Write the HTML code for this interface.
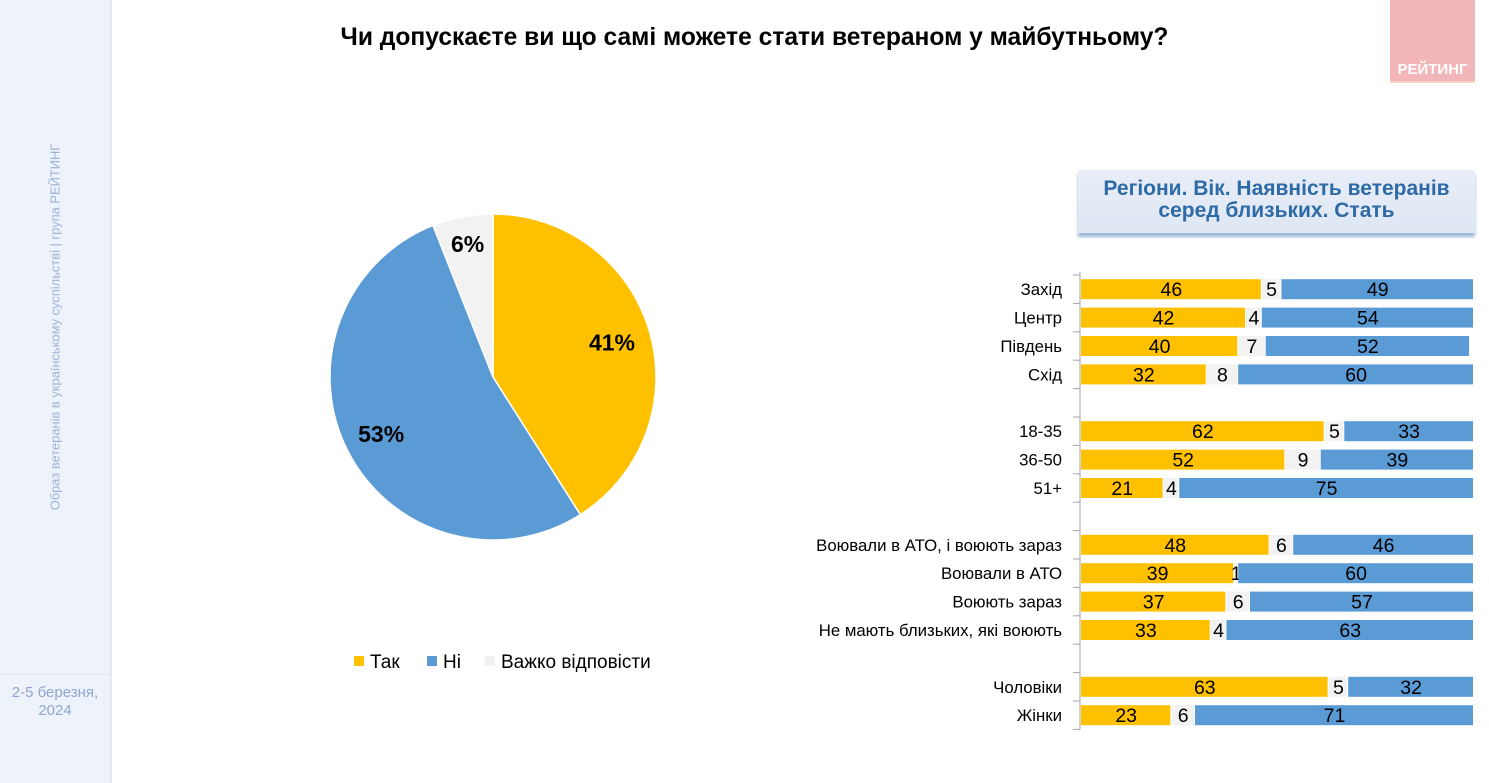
<!DOCTYPE html>
<html><head><meta charset="utf-8"><style>
body{margin:0;width:1489px;height:783px;background:#fff;position:relative;overflow:hidden;font-family:"Liberation Sans",sans-serif;}
#side{position:absolute;left:0;top:0;width:110px;height:783px;background:#eef3fb;border-right:2px solid #e2e9f4;}
#vt{position:absolute;left:55px;top:327px;transform:translate(-50%,-50%) rotate(-90deg);white-space:nowrap;color:#9bb3d8;font-size:12.9px;}
#date{position:absolute;left:0;width:110px;top:684px;text-align:center;color:#8fa6d0;font-size:15px;line-height:18px;}
#hr{position:absolute;left:0;top:674px;width:110px;border-top:1px solid #dde5f1;}
#title{position:absolute;left:0;width:1509px;top:24px;text-align:center;font-weight:bold;font-size:24.6px;color:#000;}
#logo{position:absolute;left:1390px;top:0;width:85px;height:81px;background:#f2b6b8;border-bottom:2px solid #f7d3c8;}
#logo span{position:absolute;bottom:3px;left:0;width:85px;text-align:center;color:#fff;font-weight:bold;font-size:15px;}
#box{position:absolute;left:1078px;top:170px;width:397px;height:63px;background:linear-gradient(#e8eef8,#dfe7f4);box-shadow:0 4px 3px #9fb8d8;text-align:center;color:#2e6aa6;font-weight:bold;font-size:21px;line-height:22px;padding-top:8px;box-sizing:border-box;}
</style></head><body>
<div id="side">
<div id="vt">Образ ветеранів в українському суспільстві | група РЕЙТИНГ</div>
<div id="hr"></div>
<div id="date">2-5 березня,<br>2024</div>
</div>
<div id="title">Чи допускаєте ви що самі можете стати ветераном у майбутньому?</div>
<div id="logo"><span>РЕЙТИНГ</span></div>
<div id="box">Регіони. Вік. Наявність ветеранів<br>серед близьких. Стать</div>
<svg id="svg" width="1489" height="783" style="position:absolute;left:0;top:0"></svg>
<script>
const pieLabels=["Так","Ні","Важко відповісти"];
const pieValues=[41,53,6];
const colors=["#ffc000","#5b9bd5","#f2f2f2"];
const categories=["Захід","Центр","Південь","Схід",null,"18-35","36-50","51+",null,"Воювали в АТО, і воюють зараз","Воювали в АТО","Воюють зараз","Не мають близьких, які воюють",null,"Чоловіки","Жінки"];
const yesVals=[46,42,40,32,null,62,52,21,null,48,39,37,33,null,63,23];
const hardVals=[5,4,7,8,null,5,9,4,null,6,1,6,4,null,5,6];
const noVals=[49,54,52,60,null,33,39,75,null,46,60,57,63,null,32,71];
const NS="http://www.w3.org/2000/svg";
const svg=document.getElementById('svg');
function mk(t,a,p){const e=document.createElementNS(NS,t);for(const k in a)e.setAttribute(k,a[k]);(p||svg).appendChild(e);return e;}
// pie
const cx=493,cy=377,r=163;
let tot=pieValues.reduce((a,b)=>a+b,0),acc=0;
const labelR=[0.76,0.77,0.83];
pieValues.forEach((v,i)=>{
 const a0=acc/tot*2*Math.PI,a1=(acc+v)/tot*2*Math.PI;acc+=v;
 const p=(a)=>[cx+r*Math.sin(a),cy-r*Math.cos(a)];
 const [x0,y0]=p(a0),[x1,y1]=p(a1);
 const s=mk('path',{d:`M${cx},${cy}L${x0},${y0}A${r},${r} 0 ${a1-a0>Math.PI?1:0} 1 ${x1},${y1}Z`,fill:colors[i],stroke:'#fff','stroke-width':1.5});
 
 
 const am=(a0+a1)/2,lr=r*labelR[i];
 const t=mk('text',{x:cx+lr*Math.sin(am),y:cy-lr*Math.cos(am)+8,'text-anchor':'middle','font-size':23,'font-weight':'bold','font-family':'Liberation Sans'});
 t.textContent=v+'%';
 
 
});
// legend
let lx=354;
pieLabels.forEach((l,i)=>{
 const g=mk('g',{});
 
 
 mk('rect',{x:lx,y:656,width:10,height:10,fill:colors[i]},g);
 const t=mk('text',{x:lx+16,y:668,'font-size':19,'font-family':'Liberation Sans'},g);t.textContent=l;
 lx+= i==0?73:58;
});
// bars
const ax=1080,x0=1081,W=393,top0=275,slot=28.4,bh=20;
const xs=v=>v/100*W;
mk('line',{x1:ax,y1:top0-3,x2:ax,y2:top0+categories.length*slot,stroke:'#a6a6a6'});
for(let i=0;i<=categories.length;i++)mk('line',{x1:ax-7,y1:top0+i*slot,x2:ax,y2:top0+i*slot,stroke:'#a6a6a6'});
categories.forEach((c,i)=>{
 if(c===null)return;
 const cyb=top0+(i+0.5)*slot;
 const lt=mk('text',{x:1062,y:cyb+6,'text-anchor':'end','font-size':16.8,'font-family':'Liberation Sans'});lt.textContent=c;
 
 
 let x=x0;
 [[yesVals[i],0],[hardVals[i],2],[noVals[i],1]].forEach(([v,ci])=>{
  const w=xs(v);
  const b=mk('rect',{x:x,y:cyb-bh/2,width:w-1,height:bh,fill:colors[ci]});
  
  
  const t=mk('text',{x:x+w/2,y:cyb+7,'text-anchor':'middle','font-size':19.5,'font-family':'Liberation Sans'});t.textContent=v;
  
  
  x+=w;
 });
});
</script>
</body></html>
